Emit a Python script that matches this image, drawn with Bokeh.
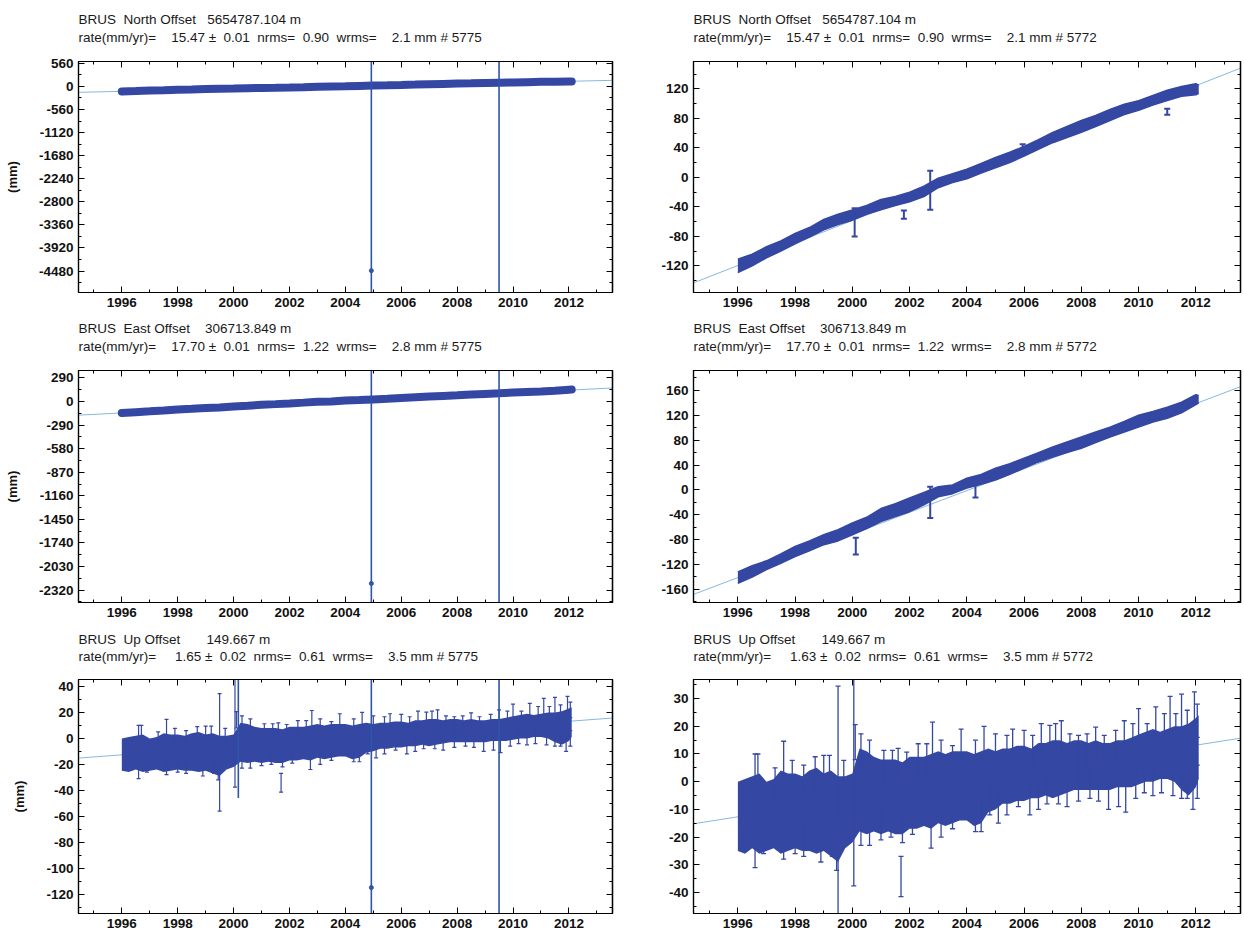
import re
import numpy as np
from bokeh.plotting import figure
from bokeh.models import Range1d, FixedTicker, LinearAxis, Title
from bokeh.layouts import column, row
from bokeh.embed import file_html
from bokeh.resources import INLINE

# ---------------- data ----------------
x_major = [1996, 1998, 2000, 2002, 2004, 2006, 2008, 2010, 2012]
x_major_labels = ["1996", "1998", "2000", "2002", "2004", "2006", "2008", "2010", "2012"]
x_minor = [1995, 1997, 1999, 2001, 2003, 2005, 2007, 2009, 2011, 2013]

# North / East (half-year envelope of daily solutions)
ne_t = [1996.0, 1996.5, 1997.0, 1997.5, 1998.0, 1998.5, 1999.0, 1999.5, 2000.0, 2000.5,
        2001.0, 2001.5, 2002.0, 2002.5, 2003.0, 2003.5, 2004.0, 2004.5, 2005.0, 2005.5,
        2006.0, 2006.5, 2007.0, 2007.5, 2008.0, 2008.5, 2009.0, 2009.5, 2010.0, 2010.5,
        2011.0, 2011.5, 2012.0, 2012.1]
n_lo = [-129, -120, -109, -100, -90, -81, -71, -64, -58, -50, -44, -38, -33, -26, -14, -7,
        -2, 6, 13, 20, 29, 38, 47, 54, 61, 69, 77, 85, 91, 98, 104, 110, 112, 114]
n_hi = [-111, -104, -94, -86, -76, -68, -57, -50, -44, -38, -30, -26, -20, -12, -1, 5,
        11, 19, 27, 34, 42, 51, 61, 69, 77, 84, 92, 99, 104, 111, 118, 123, 127, 125]
e_lo = [-150, -140, -128, -118, -107, -98, -88, -82, -72, -62, -51, -43, -35, -24, -11, -6,
        3, 9, 16, 25, 35, 45, 53, 60, 67, 76, 85, 93, 101, 109, 115, 124, 137, 140]
e_hi = [-132, -122, -114, -103, -91, -82, -72, -64, -53, -44, -30, -22, -13, -4, 5, 8,
        19, 25, 35, 42, 51, 60, 69, 77, 85, 93, 101, 110, 120, 126, 133, 141, 153, 152]

n_bar_t = [2000.08, 2001.8, 2002.72, 2005.95, 2011.0]
n_bar_lo = [-80, -56, -44, 38, 85]
n_bar_hi = [-42, -45, 9, 45, 93]
e_bar_t = [2000.12, 2002.72, 2004.3]
e_bar_lo = [-104, -45, -12]
e_bar_hi = [-77, 5, 8]

# Up: quarter-year core envelope
u_t = [1996.0, 1996.25, 1996.5, 1996.75, 1997.0, 1997.25, 1997.5, 1997.75, 1998.0, 1998.25,
       1998.5, 1998.75, 1999.0, 1999.25, 1999.5, 1999.75, 2000.0, 2000.25, 2000.5, 2000.75,
       2001.0, 2001.25, 2001.5, 2001.75, 2002.0, 2002.25, 2002.5, 2002.75, 2003.0, 2003.25,
       2003.5, 2003.75, 2004.0, 2004.25, 2004.5, 2004.75, 2005.0, 2005.25, 2005.5, 2005.75,
       2006.0, 2006.25, 2006.5, 2006.75, 2007.0, 2007.25, 2007.5, 2007.75, 2008.0, 2008.25,
       2008.5, 2008.75, 2009.0, 2009.25, 2009.5, 2009.75, 2010.0, 2010.25, 2010.5, 2010.75,
       2011.0, 2011.25, 2011.5, 2011.75, 2012.0, 2012.1]
u_lo = [-25, -26, -24, -26, -25, -24, -26, -25, -24, -25, -25, -26, -25, -27, -29, -24,
        -22, -18, -19, -18, -19, -18, -19, -19, -17, -17, -16, -17, -15, -16, -15, -14,
        -14, -16, -15, -11, -10, -8, -8, -7, -7, -6, -6, -5, -6, -5, -4, -3, -3, -3,
        -3, -3, -3, -2, -2, -2, -1, 0, 0, 1, 1, 0, -3, -5, -2, 1]
u_hi = [0, 1, 2, 3, 0, 1, 4, 3, 3, 2, 4, 5, 3, 4, 2, 2, 3, 12, 11, 9, 8, 8, 8, 7, 9, 9,
        9, 10, 11, 10, 11, 11, 11, 10, 11, 12, 11, 12, 12, 13, 13, 12, 14, 14, 15, 15, 14,
        15, 15, 14, 15, 14, 14, 15, 15, 16, 17, 18, 19, 18, 19, 20, 20, 21, 23, 24]

u_bar_t = [1996.6, 1996.7, 1997.3, 1997.6, 1997.9, 1998.3, 1998.7, 1999.0, 1999.2, 1999.7,
           2000.1, 2000.3, 2000.6, 2001.1, 2001.4, 2001.6, 2001.9, 2002.3, 2002.6, 2002.8,
           2003.1, 2003.5, 2003.8, 2004.3, 2004.6, 2005.0, 2005.4, 2005.6, 2006.0, 2006.3,
           2006.6, 2006.9, 2007.1, 2007.3, 2007.6, 2007.9, 2008.2, 2008.5, 2008.8, 2009.2,
           2009.5, 2009.8, 2010.0, 2010.3, 2010.6, 2010.9, 2011.1, 2011.3, 2011.5, 2011.7,
           2011.95, 2012.05,
           1996.6, 1996.9, 1997.6, 1998.0, 1998.3, 1998.9, 1999.3, 1999.45, 2000.3, 2000.6,
           2001.0, 2001.35, 2001.75, 2002.1, 2002.75, 2003.1, 2003.5, 2004.3, 2004.5, 2004.8,
           2005.1, 2005.4, 2005.8, 2006.2, 2006.5, 2006.8, 2007.2, 2007.5, 2007.9, 2008.3,
           2008.6, 2008.95, 2009.3, 2009.55, 2009.9, 2010.2, 2010.5, 2010.8, 2011.2, 2011.5,
           2011.7, 2011.9, 2012.05,
           2001.7, 1999.5, 2000.05]
u_bar_lo = [-2, -2, -7, 2, -4, -6, -3, -3, -3, -4, 8, 5, 3, -1, -1, 0, -1, 1, 1, 9,
            3, 1, 7, 3, 8, 5, 4, 7, 6, 4, 9, 8, 9, 10, 5, 4, 5, 7, 4, 6,
            10, 9, 14, 9, 15, 12, 18, 12, 19, 13, 20, 16,
            -31, -26, -28, -26, -27, -29, -27, -32, -23, -23, -21, -20, -22, -19, -24, -20,
            -17, -18, -18, -12, -15, -12, -9, -12, -10, -8, -8, -9, -7, -6, -7, -10, -9, -11,
            -6, -4, -5, -4, -5, -6, -6, -10, -6,
            -41.5, -56, -37.6]
u_bar_hi = [10, 10, 5, 14.6, 7.7, 6, 9, 9.5, 9.5, 7.7, 20.6, 17.3, 15, 11.3, 11.3, 12, 10.7,
            13.7, 13.7, 21.5, 15, 13, 19, 15, 20, 17.3, 16.7, 19, 18.5, 16.7, 21, 20.3, 21,
            22, 17.3, 16.7, 17.3, 19.7, 16.7, 18.5, 22, 21, 26.4, 21, 27, 24.6, 30.8, 24.6,
            31.6, 25.8, 32.4, 28,
            -19, -14, -16, -14, -15, -17, -15, -20, -11, -11, -9, -8, -10, -7, -12, -8,
            -5, -6, -6, 0, -3, 0, 3, 0, 2, 4, 4, 3, 5, 6, 5, 2, 3, 1,
            6, 8, 7, 8, 7, 6, 6, 2, 6,
            -27, 34.5, 60]

# fit lines (left frame edge -> right frame edge)
fit_t = [1994.45, 2013.56]
n_fit = [-143, 148]
e_fit = [-168, 166]
u_fit = [-15.2, 15.7]

# solutions removed in the right-hand column (5775 -> 5772)
out_t = [2004.93]
n_out_y = [-4470]
e_out_y = [-2238]
u_out_y = [-115]
out_bar_t = [2004.93, 2009.5]
big_lo = [-20000, -20000]
big_hi = [20000, 20000]
u_out_bar_t = [2000.17, 2004.93, 2009.5]
u_out_bar_lo = [-46, -2000, -2000]
u_out_bar_hi = [60, 2000, 2000]

# y ticks
n_left_ticks = [560, 0, -560, -1120, -1680, -2240, -2800, -3360, -3920, -4480]
n_left_labels = ["560", "0", "-560", "-1120", "-1680", "-2240", "-2800", "-3360", "-3920", "-4480"]
e_left_ticks = [290, 0, -290, -580, -870, -1160, -1450, -1740, -2030, -2320]
e_left_labels = ["290", "0", "-290", "-580", "-870", "-1160", "-1450", "-1740", "-2030", "-2320"]
u_left_ticks = [40, 20, 0, -20, -40, -60, -80, -100, -120]
u_left_labels = ["40", "20", "0", "-20", "-40", "-60", "-80", "-100", "-120"]
n_right_ticks = [120, 80, 40, 0, -40, -80, -120]
n_right_labels = ["120", "80", "40", "0", "-40", "-80", "-120"]
e_right_ticks = [160, 120, 80, 40, 0, -40, -80, -120, -160]
e_right_labels = ["160", "120", "80", "40", "0", "-40", "-80", "-120", "-160"]
u_right_ticks = [30, 20, 10, 0, -10, -20, -30, -40]
u_right_labels = ["30", "20", "10", "0", "-10", "-20", "-30", "-40"]

titles = {
    "nl": ("BRUS  North Offset   5654787.104 m",
           "rate(mm/yr)=    15.47 \u00b1  0.01  nrms=  0.90  wrms=    2.1 mm # 5775"),
    "nr": ("BRUS  North Offset   5654787.104 m",
           "rate(mm/yr)=    15.47 \u00b1  0.01  nrms=  0.90  wrms=    2.1 mm # 5772"),
    "el": ("BRUS  East Offset    306713.849 m",
           "rate(mm/yr)=    17.70 \u00b1  0.01  nrms=  1.22  wrms=    2.8 mm # 5775"),
    "er": ("BRUS  East Offset    306713.849 m",
           "rate(mm/yr)=    17.70 \u00b1  0.01  nrms=  1.22  wrms=    2.8 mm # 5772"),
    "ul": ("BRUS  Up Offset       149.667 m",
           "rate(mm/yr)=     1.65 \u00b1  0.02  nrms=  0.61  wrms=    3.5 mm # 5775"),
    "ur": ("BRUS  Up Offset       149.667 m",
           "rate(mm/yr)=     1.63 \u00b1  0.02  nrms=  0.61  wrms=    3.5 mm # 5772"),
}

# ---------------- style ----------------
BLUE = "#3447a2"
VLINE = "#2d55a8"
FIT = "#86b8de"
FONT = "Liberation Sans"
XR = (1994.45, 2013.56)


def keep_spaces(s):
    # SVG collapses runs of blanks: keep the first as a normal space, the rest as no-break spaces
    return re.sub(r" {2,}", lambda m: " " + "\u00a0" * (len(m.group(0)) - 1), s)


def minor_of(ticks):
    step = abs(ticks[0] - ticks[1]) / 2.0
    return list(np.arange(min(ticks) - step, max(ticks) + step * 1.5, step))


def make_axis(ticks, minor, labels):
    return LinearAxis(ticker=FixedTicker(ticks=ticks, minor_ticks=minor),
                      major_label_overrides={t: l for t, l in zip(ticks, labels)},
                      major_tick_in=6, major_tick_out=0, minor_tick_in=3, minor_tick_out=0,
                      major_tick_line_color="black", minor_tick_line_color="black",
                      axis_line_color="black", axis_line_width=1.2,
                      major_label_text_font=FONT, major_label_text_font_size="13.5px",
                      major_label_text_font_style="bold", major_label_text_color="#111111",
                      major_label_standoff=5)


def mirror_axes(p, side, majors, minors):
    # tick marks only (no labels) on the top / right edges of the frame
    for pos, ln in ((majors, 6), (minors, 3)):
        ax = LinearAxis(ticker=FixedTicker(ticks=[], minor_ticks=list(pos)),
                        minor_tick_in=ln, minor_tick_out=0, major_tick_in=0, major_tick_out=0,
                        minor_tick_line_color="black", axis_line_color="black",
                        axis_line_width=1.2, major_label_standoff=0)
        p.add_layout(ax, side)


def make_panel(key, w, h, bl, br, bt, bb, yr, yticks, ylabels, ylabel, s2, s1):
    p = figure(width=w, height=h, x_range=Range1d(*XR), y_range=Range1d(*yr),
               output_backend="svg", toolbar_location=None,
               x_axis_type=None, y_axis_type=None,
               min_border_left=bl, min_border_right=br,
               min_border_top=bt, min_border_bottom=bb)
    p.outline_line_color = "black"
    p.outline_line_width = 1.2
    p.background_fill_color = "white"
    p.border_fill_color = "white"
    ymin = minor_of(yticks)
    p.add_layout(make_axis(x_major, x_minor, x_major_labels), "below")
    lax = make_axis(yticks, ymin, ylabels)
    if ylabel:
        lax.axis_label = ylabel
        lax.axis_label_text_font = FONT
        lax.axis_label_text_font_size = "13px"
        lax.axis_label_text_font_style = "bold"
        lax.axis_label_text_color = "#111111"
        lax.axis_label_standoff = 16
    p.add_layout(lax, "left")
    mirror_axes(p, "above", x_major, x_minor)
    mirror_axes(p, "right", yticks, ymin)
    l1, l2 = titles[key]
    p.add_layout(Title(text=keep_spaces(l2), align="left", text_font=FONT,
                       text_font_size="13.5px", text_font_style="normal",
                       text_color="#1a1a1a", standoff=s2), "above")
    p.add_layout(Title(text=keep_spaces(l1), align="left", text_font=FONT,
                       text_font_size="13.5px", text_font_style="normal",
                       text_color="#1a1a1a", standoff=s1), "above")
    return p


def bars(p, t, lo, hi, width=1.3, cap=5):
    p.segment(x0=t, y0=lo, x1=t, y1=hi, line_color=BLUE, line_width=width)
    p.scatter(x=t, y=hi, marker="dash", size=cap, line_color=BLUE, line_width=width)
    p.scatter(x=t, y=lo, marker="dash", size=cap, line_color=BLUE, line_width=width)


# geometry (page has no margin: figures start at 0,0)
LW, RW = 622, 622
LB_L, LB_R = 78, 10
RB_L, RB_R = 71, 4
rows_geo = [(310, 59, 18), (310, 60, 18), (311, 58, 18)]
S2, S1 = 34, -32

# ---- North ----
h, bt, bb = rows_geo[0]
nl = make_panel("nl", LW, h, LB_L, LB_R, bt, bb, (-5000, 605), n_left_ticks, n_left_labels,
                "(mm)", S2, S1)
nl.line(fit_t, n_fit, line_color=FIT, line_width=1)
n_mid = (np.array(n_lo) + np.array(n_hi)) / 2
nl.line(ne_t, n_mid, line_color=BLUE, line_width=8, line_cap="round")
nl.segment(x0=out_bar_t, y0=big_lo, x1=out_bar_t, y1=big_hi, line_color=VLINE, line_width=1.6)
nl.scatter(out_t, n_out_y, size=4, color=VLINE)

nr = make_panel("nr", RW, h, RB_L, RB_R, bt + 2, bb - 1, (-156, 157), n_right_ticks,
                n_right_labels, None, S2, S1)
nr.line(fit_t, n_fit, line_color=FIT, line_width=1)
nr.varea(x=ne_t, y1=n_lo, y2=n_hi, fill_color=BLUE)
nr.line(ne_t, n_lo, line_color=BLUE, line_width=1.5)
nr.line(ne_t, n_hi, line_color=BLUE, line_width=1.5)
bars(nr, n_bar_t, n_bar_lo, n_bar_hi, width=2, cap=6)

# ---- East ----
h, bt, bb = rows_geo[1]
el = make_panel("el", LW, h, LB_L, LB_R, bt, bb, (-2472, 381), e_left_ticks, e_left_labels,
                "(mm)", S2, S1)
el.line(fit_t, e_fit, line_color=FIT, line_width=1)
e_mid = (np.array(e_lo) + np.array(e_hi)) / 2
el.line(ne_t, e_mid, line_color=BLUE, line_width=8, line_cap="round")
el.segment(x0=out_bar_t, y0=big_lo, x1=out_bar_t, y1=big_hi, line_color=VLINE, line_width=1.6)
el.scatter(out_t, e_out_y, size=4, color=VLINE)

er = make_panel("er", RW, h, RB_L, RB_R, bt, bb, (-181, 192), e_right_ticks, e_right_labels,
                None, S2, S1)
er.line(fit_t, e_fit, line_color=FIT, line_width=1)
er.varea(x=ne_t, y1=e_lo, y2=e_hi, fill_color=BLUE)
er.line(ne_t, e_lo, line_color=BLUE, line_width=1.5)
er.line(ne_t, e_hi, line_color=BLUE, line_width=1.5)
bars(er, e_bar_t, e_bar_lo, e_bar_hi, width=2, cap=6)

# ---- Up ----
h, bt, bb = rows_geo[2]
ul = make_panel("ul", LW, h, LB_L, LB_R, bt, bb, (-135, 45.4), u_left_ticks, u_left_labels,
                "(mm)", S2 - 2, S1)
ul.line(fit_t, u_fit, line_color=FIT, line_width=1)
ul.varea(x=u_t, y1=u_lo, y2=u_hi, fill_color=BLUE)
bars(ul, u_bar_t, u_bar_lo, u_bar_hi, width=1.2, cap=4)
ul.segment(x0=u_out_bar_t, y0=u_out_bar_lo, x1=u_out_bar_t, y1=u_out_bar_hi,
           line_color=VLINE, line_width=1.6)
ul.scatter(out_t, u_out_y, size=4, color=VLINE)

ur = make_panel("ur", RW, h, RB_L, RB_R, bt + 1, bb, (-47.6, 36.9), u_right_ticks,
                u_right_labels, None, S2 - 2, S1)
ur.line(fit_t, u_fit, line_color=FIT, line_width=1)
ur.varea(x=u_t, y1=u_lo, y2=u_hi, fill_color=BLUE)
bars(ur, u_bar_t, u_bar_lo, u_bar_hi, width=1.3, cap=5)

layout = column(row(nl, nr), row(el, er), row(ul, ur))
open("out.html", "w").write(file_html(layout, INLINE))
